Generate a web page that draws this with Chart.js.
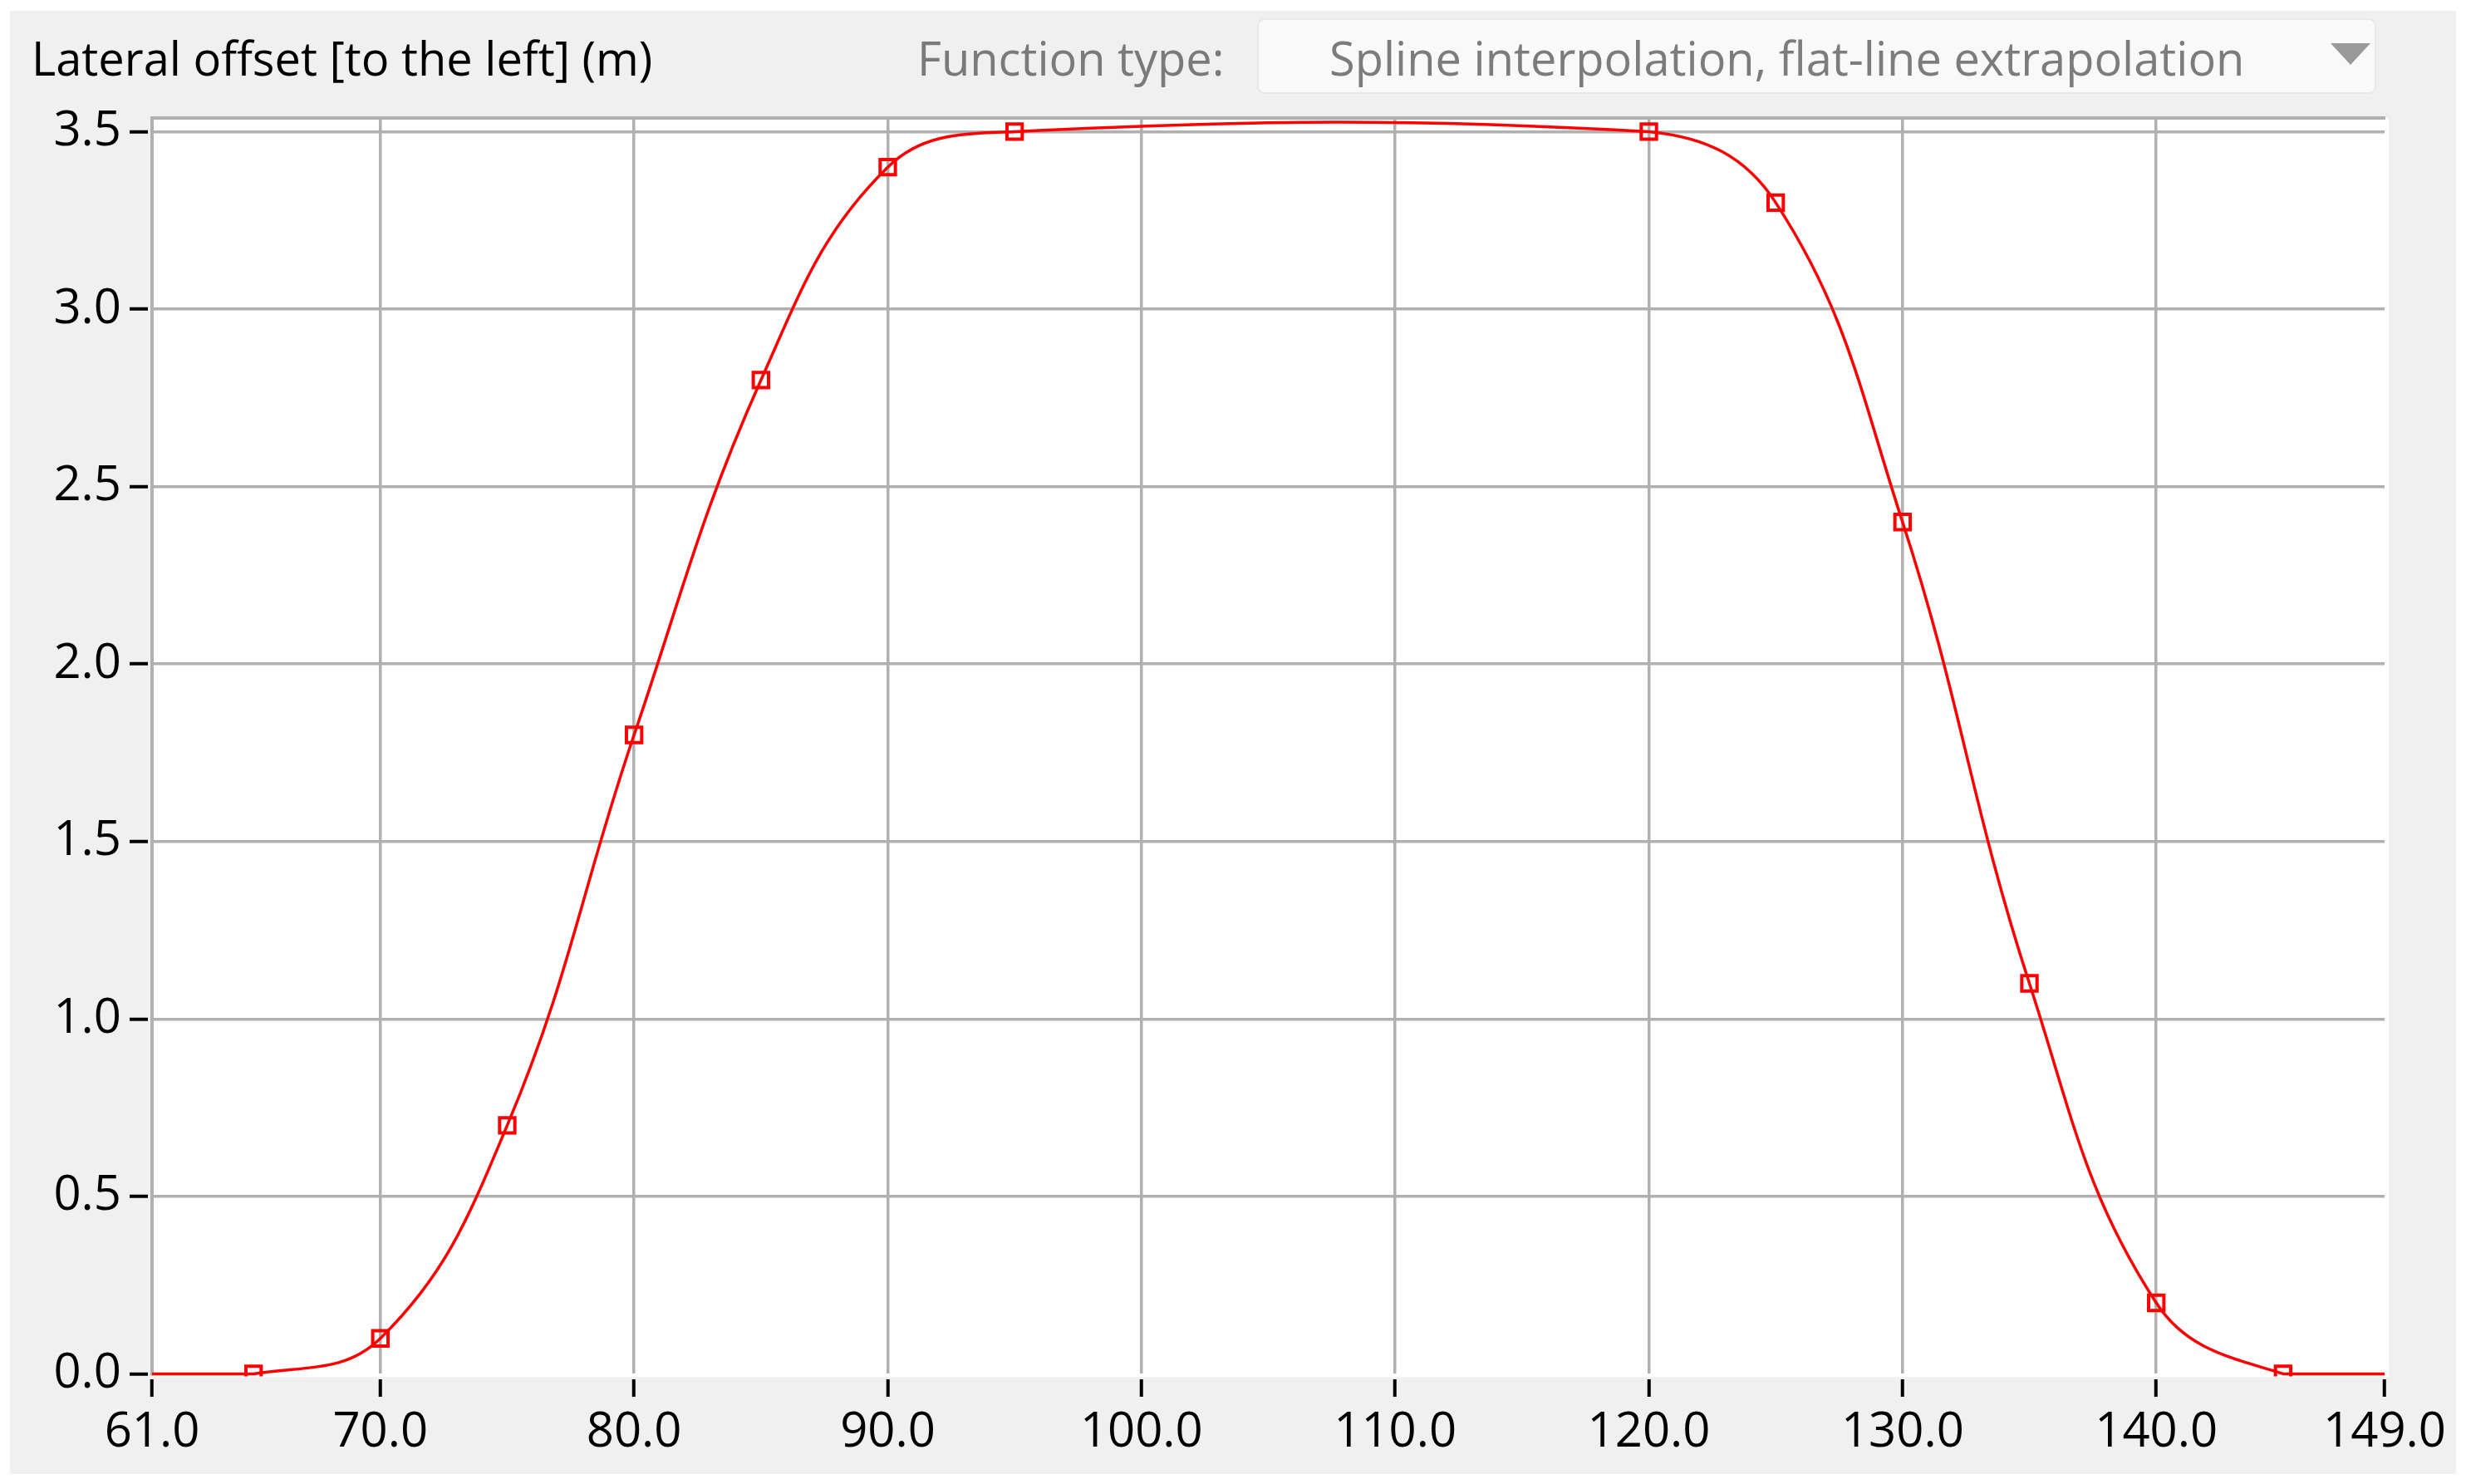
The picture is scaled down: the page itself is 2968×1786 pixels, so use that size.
<!DOCTYPE html>
<html>
<head>
<meta charset="utf-8">
<script src="https://cdn.jsdelivr.net/npm/chart.js@4.4.1/dist/chart.umd.min.js"></script>
<style>
  html, body { margin: 0; padding: 0; background: #ffffff; width: 2968px; height: 1786px; overflow: hidden; }
  #panel { position: absolute; left: 12px; top: 13px; width: 2944px; height: 1761px; background: #f0f0f0; }
  #c { position: absolute; left: 0; top: 0; }
  .ui { position: absolute; font-family: 'Open Sans', sans-serif; font-size: 56px; line-height: 76px; white-space: nowrap; }
  #ftlabel { left: 1104px; top: 31px; color: #7a7a7a; }
  #combo { position: absolute; left: 1513px; top: 22px; width: 1347px; height: 91px; background: #f9f9f9;
           border: 2px solid #e8e8e8; border-radius: 9px; box-sizing: border-box; }
  #combotext { left: 1600px; top: 31px; color: #7c7c7c; }
  #arrow { position: absolute; left: 2805px; top: 52px; width: 0; height: 0;
           border-left: 24px solid transparent; border-right: 24px solid transparent; border-top: 26px solid #9a9a9a; }
</style>
</head>
<body>
<div id="panel"></div>
<canvas id="c" width="2968" height="1786"></canvas>
<div id="combo"></div>
<div class="ui" id="ftlabel">Function type:</div>
<div class="ui" id="combotext">Spline interpolation, flat-line extrapolation</div>
<div id="arrow"></div>
<script>
// ---- data ----
const knotX = [65, 70, 75, 80, 85, 90, 95, 120, 125, 130, 135, 140, 145];
const knotY = [0.0, 0.1, 0.7, 1.8, 2.8, 3.4, 3.5, 3.5, 3.3, 2.4, 1.1, 0.2, 0.0];
// flat-line extrapolation to the ends of the visible range
const extrapLeft = { x: 61, y: 0.0 };
const extrapRight = { x: 149, y: 0.0 };
const xTicks = [61, 70, 80, 90, 100, 110, 120, 130, 140, 149];
const yTicks = [0.0, 0.5, 1.0, 1.5, 2.0, 2.5, 3.0, 3.5];
const xMin = 61, xMax = 149, yMin = 0, yMax = 3.538;
const titleText = 'Lateral offset [to the left] (m)';

// ---- styling ----
const RED = '#ff0000';
const GRID = '#b0b0b0';
const NONE = 'rgba(0,0,0,0)';
Chart.defaults.font.family = "'Open Sans', sans-serif";
Chart.defaults.font.size = 58;
Chart.defaults.color = '#000000';

const curveData = [extrapLeft].concat(knotX.map((x, i) => ({ x: x, y: knotY[i] })), [extrapRight]);
const lastIdx = curveData.length - 1;

const plotBg = {
  id: 'plotBg',
  beforeDraw(chart) {
    const { ctx, chartArea: a } = chart;
    ctx.save();
    ctx.fillStyle = '#ffffff';
    ctx.fillRect(a.left, a.top, a.right - a.left + 5, a.bottom - a.top + 4);
    ctx.restore();
  }
};

new Chart(document.getElementById('c'), {
  type: 'line',
  data: {
    datasets: [{
      label: 'Lateral offset',
      data: curveData,
      borderColor: RED,
      borderWidth: 3.5,
      tension: 0.4,
      pointStyle: 'rect',
      pointRadius: c => (c.dataIndex === 0 || c.dataIndex === lastIdx) ? 0 : 13,
      pointBorderWidth: 4,
      pointBorderColor: RED,
      pointBackgroundColor: NONE,
      clip: { left: 0, top: 0, right: 5, bottom: 3 }
    }]
  },
  options: {
    responsive: false,
    devicePixelRatio: 1,
    animation: false,
    layout: { padding: { left: 38, top: 0, right: 98, bottom: 19 } },
    plugins: {
      legend: { display: false },
      tooltip: { enabled: false },
      title: {
        display: true, text: titleText, align: 'start', color: '#000000',
        font: { size: 56, weight: 'normal' },
        padding: { top: 41, bottom: 34 }
      }
    },
    scales: {
      x: {
        type: 'linear', min: xMin, max: xMax,
        afterBuildTicks: s => { s.ticks = xTicks.map(v => ({ value: v })); },
        ticks: { autoSkip: false, maxRotation: 0, padding: 8, color: '#000000', callback: v => Number(v).toFixed(1) },
        grid: {
          color: c => (c.tick && (c.tick.value === xMin || c.tick.value === xMax)) ? NONE : GRID,
          lineWidth: 3.5, drawTicks: true, tickLength: 28, tickColor: '#000000', tickWidth: 4,
          tickBorderDash: [0, 7, 21, 1000]
        },
        border: { display: false }
      },
      x2: {
        type: 'linear', position: 'top', min: xMin, max: xMax,
        grid: { display: false, drawTicks: false },
        ticks: { display: false },
        border: { display: true, color: GRID, width: 4 }
      },
      y: {
        type: 'linear', min: yMin, max: yMax,
        afterBuildTicks: s => { s.ticks = yTicks.map(v => ({ value: v })); },
        afterFit: s => { s.width = 145; },
        ticks: { padding: 10, color: '#000000', callback: v => Number(v).toFixed(1) },
        grid: {
          color: c => (c.tick && c.tick.value === yMin) ? NONE : GRID,
          lineWidth: 3.5, drawTicks: true, tickLength: 27, tickColor: '#000000', tickWidth: 4,
          tickBorderDash: [22, 1000]
        },
        border: { display: true, color: GRID, width: 4 }
      }
    }
  },
  plugins: [plotBg]
});
</script>
</body>
</html>
